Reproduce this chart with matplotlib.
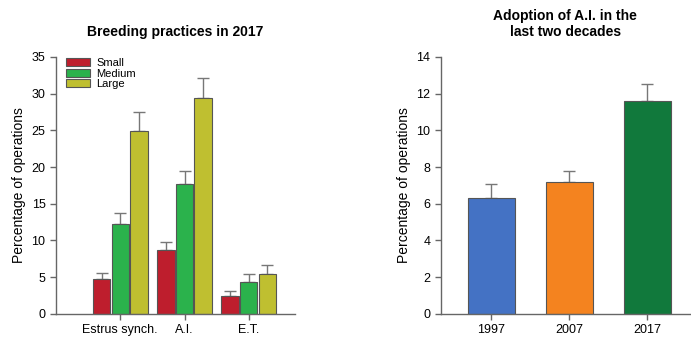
import numpy as np
import matplotlib.pyplot as plt

plt.rcParams['font.family'] = ['Liberation Sans', 'DejaVu Sans']

# left panel: breeding practices by operation size
practices = ['Estrus synch.', 'A.I.', 'E.T.']
sizes = ['Small', 'Medium', 'Large']
small = [4.8, 8.7, 2.5]
medium = [12.2, 17.7, 4.4]
large = [24.9, 29.4, 5.5]
small_err = [0.8, 1.1, 0.6]
medium_err = [1.5, 1.8, 1.0]
large_err = [2.6, 2.8, 1.2]
size_colors = ['#BE1E2D', '#2BB24C', '#BFBF30']

# right panel: adoption of A.I. over time
years = ['1997', '2007', '2017']
ai_pct = [6.3, 7.2, 11.6]
ai_err = [0.8, 0.6, 0.9]
year_colors = ['#4472C4', '#F4831F', '#11793C']

edge = '#555555'
axis_col = '#666666'

fig = plt.figure(figsize=(6.91, 3.39), dpi=100)
ax1 = fig.add_axes([0.081, 0.074, 0.346, 0.758])
ax2 = fig.add_axes([0.638, 0.074, 0.360, 0.758])


def style_axes(ax):
    for s in ['top', 'right']:
        ax.spines[s].set_visible(False)
    for s in ['left', 'bottom']:
        ax.spines[s].set_color(axis_col)
        ax.spines[s].set_linewidth(1.0)
    ax.tick_params(axis='both', direction='out', colors=axis_col,
                   labelcolor='black', labelsize=9, length=4, width=1)


x = np.arange(1, len(practices) + 1)
w = 0.27
step = 0.29
for i, (vals, errs) in enumerate(zip([small, medium, large],
                                     [small_err, medium_err, large_err])):
    pos = x + (i - 1) * step
    ax1.bar(pos, vals, width=w, color=size_colors[i], edgecolor=edge,
            linewidth=0.8, label=sizes[i], zorder=2)
    ax1.errorbar(pos, vals, yerr=[np.zeros(len(vals)), errs], fmt='none',
                 ecolor='#777777', elinewidth=1, capsize=4.5, capthick=1,
                 zorder=1)

ax1.set_xlim(0, 3.72)
ax1.set_ylim(0, 35)
ax1.set_yticks(range(0, 36, 5))
ax1.set_xticks(x)
ax1.set_xticklabels(practices)
ax1.set_ylabel('Percentage of operations', fontsize=10)
ax1.set_title('Breeding practices in 2017', fontsize=10, fontweight='bold',
              pad=15)
style_axes(ax1)
ax1.legend(loc='upper left', bbox_to_anchor=(0.0, 1.035), frameon=False,
           fontsize=8, handlelength=2.2, handleheight=0.75,
           labelspacing=0.05, handletextpad=0.55)

xr = np.arange(1, len(years) + 1)
ax2.bar(xr, ai_pct, width=0.6, color=year_colors, edgecolor=edge,
        linewidth=0.8, zorder=2)
ax2.errorbar(xr, ai_pct, yerr=[np.zeros(len(ai_pct)), ai_err], fmt='none',
             ecolor='#777777', elinewidth=1, capsize=4.5, capthick=1,
             zorder=1)
ax2.set_xlim(0.353, 3.545)
ax2.set_ylim(0, 14)
ax2.set_yticks(range(0, 15, 2))
ax2.set_xticks(xr)
ax2.set_xticklabels(years)
ax2.set_ylabel('Percentage of operations', fontsize=10)
ax2.set_title('Adoption of A.I. in the\nlast two decades', fontsize=10,
              fontweight='bold', pad=15, linespacing=1.15)
style_axes(ax2)

fig.savefig('out.png', dpi=100)
